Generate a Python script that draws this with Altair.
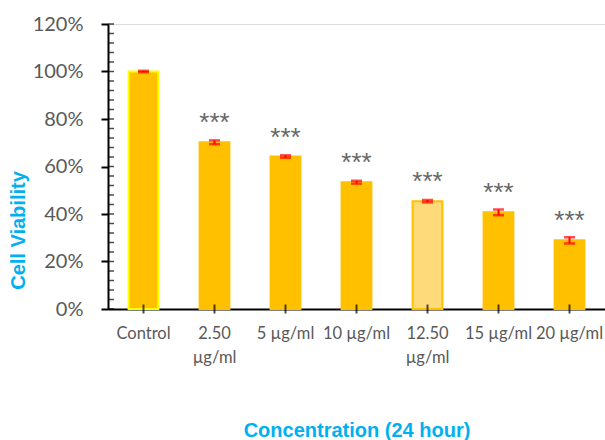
import altair as alt
import pandas as pd

categories = ["Control", "2.50 µg/ml", "5 µg/ml", "10 µg/ml", "12.50 µg/ml", "15 µg/ml", "20 µg/ml"]
viability = [1.000, 0.702, 0.642, 0.534, 0.454, 0.407, 0.289]
errors = [0.003, 0.008, 0.005, 0.006, 0.005, 0.012, 0.013]
significance = ["", "***", "***", "***", "***", "***", "***"]

major_ticks = [0, 0.2, 0.4, 0.6, 0.8, 1.0, 1.2]
minor_ticks = [i / 100 for i in range(0, 121, 4)]

df = pd.DataFrame({"cat": categories, "v": viability, "e": errors, "sig": significance})
tick_df = pd.DataFrame({"t": minor_ticks})

FONT = "Lato"
GREY = "#595959"
CYAN = "#00B0F0"

xscale = alt.Scale(domain=categories, paddingInner=0.58, paddingOuter=0.29)
yscale = alt.Scale(domain=[0, 1.2], nice=False)

x_axis = alt.Axis(
    title="Concentration (24 hour)", labelAngle=0, ticks=False, domain=True,
    domainColor="black", domainWidth=2,
    labelExpr="indexof(datum.value, '.50') >= 0 ? split(datum.value, ' ') : datum.value",
    labelFont=FONT, labelFontSize=16.5, labelColor=GREY, labelPadding=24, labelLineHeight=24,
    labelBaseline="middle",
    titleFont="Liberation Sans", titleFontSize=20, titleFontWeight="bold", titleColor=CYAN,
    titleY=121, titleBaseline="middle",
)

y_axis = alt.Axis(
    title="Cell Viability", format=".0%", values=major_ticks, grid=False,
    domainColor="black", domainWidth=2, tickColor="black", tickWidth=2, tickSize=7,
    labelFont=FONT, labelFontSize=20, labelColor=GREY, labelPadding=18,
    titleFont="Liberation Sans", titleFontSize=20, titleFontWeight="bold", titleColor=CYAN,
    titleX=-90, titleY=206, titleAngle=-90, titleAlign="center", titleBaseline="middle",
    orient="left",
)

X = alt.X("cat:N", sort=categories, scale=xscale)

base = alt.Chart(df)

bars = base.mark_bar(strokeWidth=2).encode(
    x=alt.X("cat:N", scale=xscale, axis=x_axis, sort=categories),
    y=alt.Y("v:Q", scale=yscale, axis=y_axis),
    fill=alt.condition(alt.datum.cat == "12.50 µg/ml", alt.value("#FFDA7A"), alt.value("#FFC000")),
    stroke=alt.condition(alt.datum.cat == "Control", alt.value("#FFFF00"),
                         alt.value("#FFC000")),
)

err = base.transform_calculate(lo="datum.v - datum.e", hi="datum.v + datum.e")

rule = err.mark_rule(color="#FF0000", strokeWidth=2).encode(
    x=X,
    y=alt.Y("lo:Q", scale=yscale),
    y2="hi:Q",
)
cap_lo = err.mark_tick(color="#FF0000", size=11, thickness=2.5).encode(
    x=X, y=alt.Y("lo:Q", scale=yscale))
cap_hi = err.mark_tick(color="#FF0000", size=11, thickness=2.5).encode(
    x=X, y=alt.Y("hi:Q", scale=yscale))

stars = base.mark_text(dy=-11, fontSize=26, color="#666666", font="Liberation Sans",
                       baseline="alphabetic").encode(
    x=X, y=alt.Y("v:Q", scale=yscale), text="sig:N")

xticks = base.mark_tick(orient="vertical", color="black", size=9, thickness=2).encode(
    x=X, y=alt.YDatum(0, scale=yscale))

inner_ticks = alt.Chart(tick_df).mark_tick(orient="horizontal", color="black", size=6,
                                           thickness=1.5).encode(
    x=alt.value(3), y=alt.Y("t:Q", scale=yscale))

chart = alt.layer(bars, rule, cap_lo, cap_hi, stars, xticks, inner_ticks).properties(
    width=497, height=285,
    autosize=alt.AutoSizeParams(type="none"),
    padding={"left": 108, "top": 24, "right": 0, "bottom": 131},
).configure_view(stroke=None).configure(background="white")

chart.save("out.html", embed_options={"renderer": "svg", "actions": False})
